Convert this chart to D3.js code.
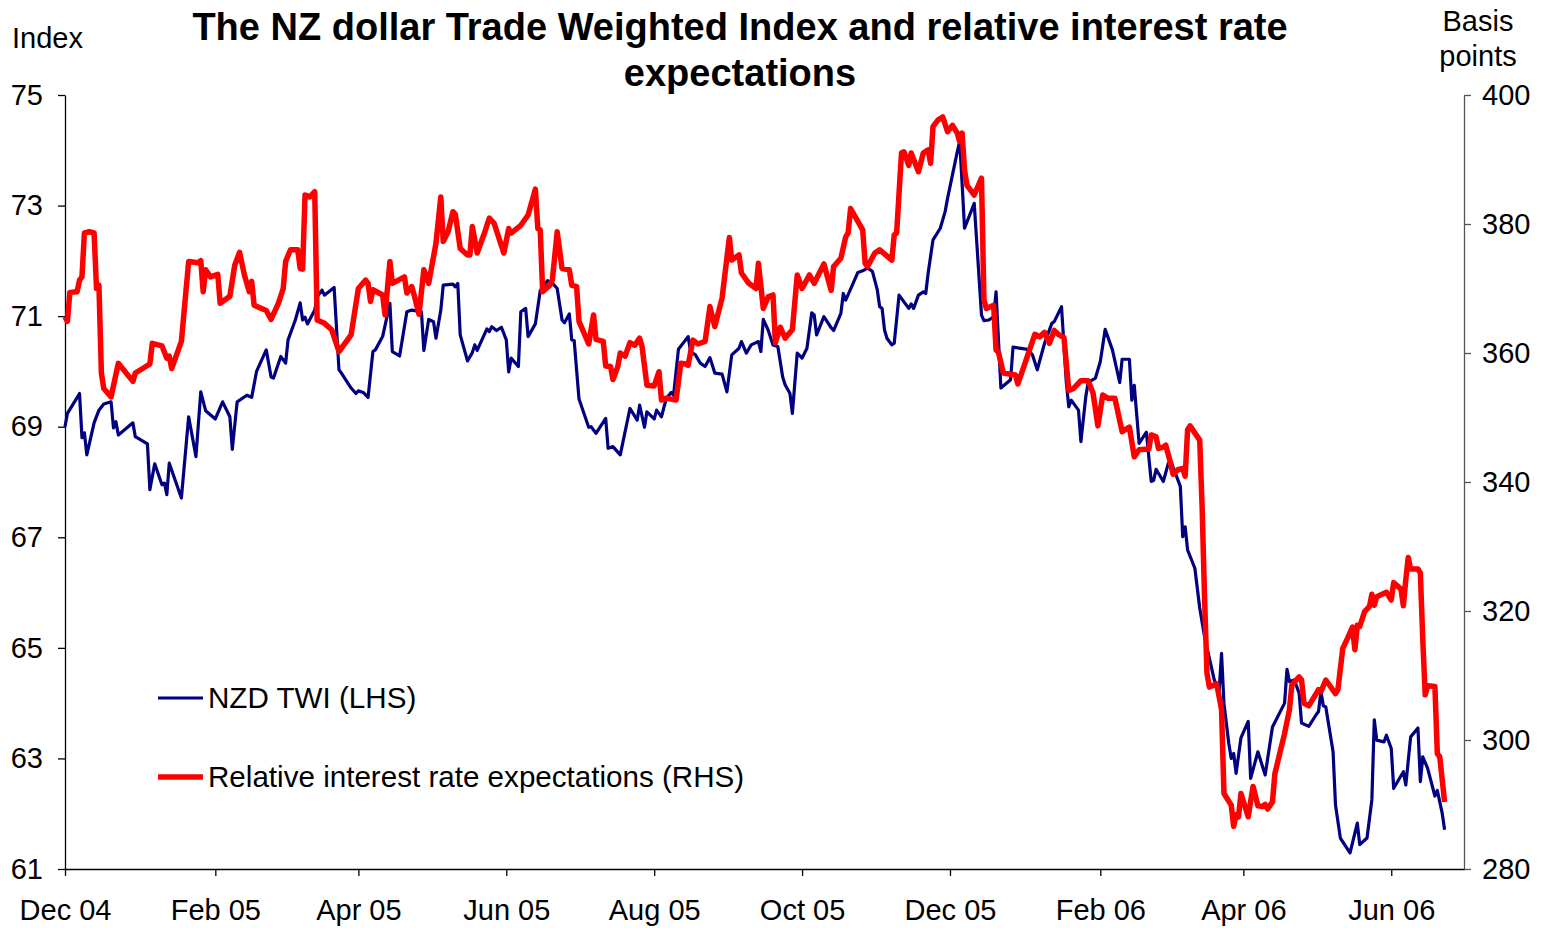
<!DOCTYPE html>
<html>
<head>
<meta charset="utf-8">
<script src="https://cdn.jsdelivr.net/npm/d3@7"></script>
<style>
	body { margin: 0; background: #fff; }
	#container { width: 1544px; height: 928px; }
	text { font-family: "Liberation Sans", Arial, sans-serif; fill: #000; }
	.axis path, .axis line { stroke: #000; stroke-width: 1.3px; }
	.axis text { font-size: 29px; }
	.rAxis path, .rAxis line { stroke: #555; }
</style>
</head>
<body>
<div id="container"></div>
<script>

// NZD TWI (LHS), index
var twiDates = [
	"2004-12-01","2004-12-02","2004-12-07","2004-12-08","2004-12-09","2004-12-10","2004-12-13","2004-12-15","2004-12-17","2004-12-20",
	"2004-12-21","2004-12-22","2004-12-23","2004-12-29","2004-12-30","2005-01-04","2005-01-05","2005-01-07","2005-01-10","2005-01-11",
	"2005-01-12","2005-01-13","2005-01-18","2005-01-21","2005-01-24","2005-01-26","2005-01-28","2005-02-01","2005-02-04","2005-02-07",
	"2005-02-08","2005-02-10","2005-02-14","2005-02-16","2005-02-18","2005-02-22","2005-02-24","2005-02-25","2005-02-28","2005-03-02",
	"2005-03-03","2005-03-06","2005-03-08","2005-03-09","2005-03-10","2005-03-11","2005-03-14","2005-03-15","2005-03-17","2005-03-18",
	"2005-03-22","2005-03-24","2005-03-25","2005-03-29","2005-03-31","2005-04-01","2005-04-03","2005-04-05","2005-04-07","2005-04-08",
	"2005-04-11","2005-04-14","2005-04-15","2005-04-18","2005-04-21","2005-04-23","2005-04-27","2005-04-28","2005-04-30","2005-05-02",
	"2005-05-03","2005-05-05","2005-05-06","2005-05-10","2005-05-11","2005-05-12","2005-05-13","2005-05-16","2005-05-18","2005-05-19",
	"2005-05-20","2005-05-24","2005-05-25","2005-05-26","2005-05-28","2005-05-30","2005-06-01","2005-06-02","2005-06-03","2005-06-06",
	"2005-06-07","2005-06-09","2005-06-10","2005-06-13","2005-06-15","2005-06-18","2005-06-20","2005-06-22","2005-06-24","2005-06-25",
	"2005-06-27","2005-06-28","2005-06-29","2005-07-01","2005-07-05","2005-07-06","2005-07-08","2005-07-12","2005-07-13","2005-07-15",
	"2005-07-18","2005-07-19","2005-07-22","2005-07-25","2005-07-26","2005-07-28","2005-07-29","2005-08-01","2005-08-02","2005-08-04",
	"2005-08-06","2005-08-08","2005-08-09","2005-08-11","2005-08-15","2005-08-16","2005-08-18","2005-08-20","2005-08-22","2005-08-24",
	"2005-08-26","2005-08-29","2005-08-31","2005-09-02","2005-09-05","2005-09-06","2005-09-08","2005-09-10","2005-09-13","2005-09-14",
	"2005-09-15","2005-09-17","2005-09-19","2005-09-21","2005-09-23","2005-09-24","2005-09-26","2005-09-27","2005-09-29","2005-10-01",
	"2005-10-03","2005-10-05","2005-10-06","2005-10-07","2005-10-10","2005-10-13","2005-10-14","2005-10-17","2005-10-18","2005-10-19",
	"2005-10-22","2005-10-24","2005-10-26","2005-10-28","2005-10-30","2005-11-01","2005-11-02","2005-11-03","2005-11-04","2005-11-05",
	"2005-11-07","2005-11-08","2005-11-10","2005-11-13","2005-11-14","2005-11-15","2005-11-16","2005-11-18","2005-11-20","2005-11-21",
	"2005-11-22","2005-11-24","2005-11-27","2005-11-29","2005-11-30","2005-12-02","2005-12-04","2005-12-05","2005-12-06","2005-12-07",
	"2005-12-11","2005-12-14","2005-12-15","2005-12-17","2005-12-19","2005-12-20","2005-12-22","2005-12-26","2005-12-27","2006-01-02",
	"2006-01-04","2006-01-06","2006-01-09","2006-01-12","2006-01-13","2006-01-16","2006-01-18","2006-01-19","2006-01-20","2006-01-23",
	"2006-01-24","2006-01-26","2006-01-27","2006-01-30","2006-02-01","2006-02-03","2006-02-06","2006-02-09","2006-02-10","2006-02-13",
	"2006-02-14","2006-02-15","2006-02-17","2006-02-20","2006-02-22","2006-02-23","2006-02-24","2006-02-27","2006-03-01","2006-03-02",
	"2006-03-06","2006-03-07","2006-03-08","2006-03-09","2006-03-12","2006-03-14","2006-03-16","2006-03-18","2006-03-20","2006-03-22",
	"2006-03-23","2006-03-24","2006-03-26","2006-03-27","2006-03-28","2006-03-29","2006-03-31","2006-04-03","2006-04-04","2006-04-07",
	"2006-04-10","2006-04-13","2006-04-18","2006-04-19","2006-04-20","2006-04-22","2006-04-24","2006-04-25","2006-04-28","2006-05-01",
	"2006-05-02","2006-05-03","2006-05-04","2006-05-05","2006-05-08","2006-05-09","2006-05-11","2006-05-15","2006-05-18","2006-05-19",
	"2006-05-22","2006-05-24","2006-05-25","2006-05-26","2006-05-29","2006-05-30","2006-06-01","2006-06-02","2006-06-06","2006-06-07",
	"2006-06-09","2006-06-12","2006-06-13","2006-06-14","2006-06-16","2006-06-19","2006-06-20","2006-06-22","2006-06-23"
];
var twiValues = [
	69.0,69.24,69.6,68.8,68.89,68.49,69.07,69.3,69.41,69.45,
	68.98,69.09,68.85,69.07,68.82,68.69,67.86,68.33,67.95,67.98,
	67.77,68.34,67.71,69.18,68.46,69.63,69.29,69.14,69.45,69.18,
	68.59,69.45,69.57,69.53,70.0,70.39,69.9,69.88,70.27,70.15,
	70.57,70.93,71.24,70.93,70.98,70.86,71.11,71.35,71.47,71.38,
	71.52,70.03,69.97,69.7,69.6,69.65,69.62,69.53,70.36,70.39,
	70.63,71.23,70.36,70.28,71.08,71.11,71.08,70.38,70.94,70.9,
	70.6,71.11,71.56,71.58,71.53,71.59,70.66,70.19,70.34,70.48,
	70.38,70.77,70.72,70.81,70.74,70.8,70.57,69.99,70.24,70.09,
	71.08,71.14,70.63,70.86,71.46,71.64,71.6,71.5,70.93,70.88,
	71.04,70.57,70.56,69.5,68.99,69.0,68.88,69.15,68.61,68.64,
	68.49,68.7,69.33,69.12,69.39,68.99,69.27,69.14,69.3,69.18,
	69.51,69.62,69.57,70.4,70.63,70.36,70.3,70.15,70.09,70.25,
	69.97,69.95,69.63,70.3,70.42,70.54,70.33,70.48,70.54,70.36,
	70.94,70.75,70.48,70.45,69.9,69.76,69.6,69.24,70.33,70.24,
	70.42,71.06,71.02,70.66,70.99,70.79,70.74,71.05,71.41,71.29,
	71.59,71.79,71.82,71.87,71.81,71.48,71.17,71.14,70.75,70.6,
	70.48,70.51,71.38,71.2,71.14,71.22,71.14,71.38,71.44,71.41,
	71.78,72.38,72.59,72.89,73.13,73.55,73.97,74.16,73.4,72.59,
	73.04,71.02,70.92,70.93,70.99,71.44,69.7,69.85,70.44,70.4,
	70.3,70.03,70.51,70.87,70.9,71.17,69.79,69.36,69.48,69.3,
	68.73,69.54,69.8,69.88,70.18,70.76,70.39,69.8,70.22,70.22,
	69.48,69.75,68.7,68.9,68.01,68.03,68.23,68.01,68.33,68.39,
	67.92,67.01,67.19,66.77,66.44,65.72,65.2,64.81,64.42,64.21,
	64.9,63.99,63.27,63.0,63.09,62.73,63.37,63.67,62.64,63.12,
	62.7,63.57,64.0,64.61,64.39,64.42,64.18,63.64,63.58,63.79,
	63.85,64.21,63.95,63.93,63.12,62.16,61.56,61.29,61.83,61.44,
	61.56,62.25,63.7,63.33,63.3,63.42,63.18,62.46,62.76,62.52,
	63.39,63.55,62.58,63.03,62.82,62.32,62.42,62.01,61.71
];

// relative interest rate expectations (RHS), basis points
var rateDates = [
	"2004-12-01","2004-12-02","2004-12-03","2004-12-06","2004-12-07","2004-12-08","2004-12-09","2004-12-11","2004-12-13","2004-12-14",
	"2004-12-15","2004-12-16","2004-12-17","2004-12-20","2004-12-23","2004-12-29","2004-12-30","2005-01-05","2005-01-06","2005-01-10",
	"2005-01-12","2005-01-13","2005-01-14","2005-01-18","2005-01-21","2005-01-25","2005-01-26","2005-01-27","2005-01-28","2005-01-30",
	"2005-02-02","2005-02-03","2005-02-07","2005-02-09","2005-02-11","2005-02-13","2005-02-15","2005-02-16","2005-02-17","2005-02-22",
	"2005-02-24","2005-02-27","2005-03-01","2005-03-02","2005-03-04","2005-03-07","2005-03-08","2005-03-09","2005-03-10","2005-03-12",
	"2005-03-14","2005-03-15","2005-03-18","2005-03-21","2005-03-24","2005-03-29","2005-04-01","2005-04-04","2005-04-05","2005-04-06",
	"2005-04-07","2005-04-11","2005-04-12","2005-04-14","2005-04-15","2005-04-20","2005-04-21","2005-04-23","2005-04-24","2005-04-26",
	"2005-04-28","2005-04-30","2005-05-03","2005-05-05","2005-05-06","2005-05-08","2005-05-10","2005-05-11","2005-05-13","2005-05-16",
	"2005-05-17","2005-05-18","2005-05-20","2005-05-23","2005-05-25","2005-05-27","2005-05-31","2005-06-02","2005-06-03","2005-06-07",
	"2005-06-10","2005-06-13","2005-06-14","2005-06-15","2005-06-16","2005-06-19","2005-06-20","2005-06-22","2005-06-24","2005-06-27",
	"2005-06-28","2005-06-30","2005-07-01","2005-07-05","2005-07-07","2005-07-08","2005-07-11","2005-07-12","2005-07-14","2005-07-15",
	"2005-07-17","2005-07-18","2005-07-20","2005-07-22","2005-07-24","2005-07-26","2005-07-27","2005-07-29","2005-08-01","2005-08-03",
	"2005-08-04","2005-08-06","2005-08-10","2005-08-12","2005-08-14","2005-08-15","2005-08-17","2005-08-19","2005-08-22","2005-08-24",
	"2005-08-26","2005-08-29","2005-09-01","2005-09-02","2005-09-05","2005-09-06","2005-09-09","2005-09-12","2005-09-13","2005-09-15",
	"2005-09-17","2005-09-19","2005-09-20","2005-09-22","2005-09-24","2005-09-27","2005-09-29","2005-10-01","2005-10-04","2005-10-06",
	"2005-10-10","2005-10-13","2005-10-14","2005-10-17","2005-10-19","2005-10-20","2005-10-21","2005-10-26","2005-10-27","2005-10-28",
	"2005-10-31","2005-11-02","2005-11-07","2005-11-08","2005-11-09","2005-11-11","2005-11-12","2005-11-14","2005-11-15","2005-11-18",
	"2005-11-20","2005-11-22","2005-11-23","2005-11-24","2005-11-26","2005-11-28","2005-11-30","2005-12-02","2005-12-04","2005-12-05",
	"2005-12-06","2005-12-07","2005-12-08","2005-12-11","2005-12-14","2005-12-15","2005-12-16","2005-12-19","2005-12-20","2005-12-21",
	"2005-12-23","2005-12-28","2005-12-29","2005-12-31","2006-01-05","2006-01-07","2006-01-09","2006-01-11","2006-01-13","2006-01-15",
	"2006-01-17","2006-01-19","2006-01-21","2006-01-24","2006-01-27","2006-01-29","2006-01-31","2006-02-02","2006-02-04","2006-02-07",
	"2006-02-10","2006-02-13","2006-02-15","2006-02-17","2006-02-21","2006-02-22","2006-02-24","2006-02-25","2006-02-27","2006-02-28",
	"2006-03-02","2006-03-03","2006-03-05","2006-03-07","2006-03-08","2006-03-09","2006-03-10","2006-03-14","2006-03-15","2006-03-16",
	"2006-03-17","2006-03-18","2006-03-21","2006-03-22","2006-03-23","2006-03-24","2006-03-27","2006-03-28","2006-03-29","2006-03-30",
	"2006-03-31","2006-04-03","2006-04-05","2006-04-07","2006-04-09","2006-04-10","2006-04-11","2006-04-13","2006-04-14","2006-04-18",
	"2006-04-20","2006-04-21","2006-04-24","2006-04-25","2006-04-26","2006-04-28","2006-05-02","2006-05-03","2006-05-05","2006-05-09",
	"2006-05-10","2006-05-12","2006-05-14","2006-05-16","2006-05-17","2006-05-18","2006-05-19","2006-05-21","2006-05-23","2006-05-24",
	"2006-05-25","2006-05-26","2006-05-30","2006-06-01","2006-06-02","2006-06-05","2006-06-06","2006-06-07","2006-06-08","2006-06-09",
	"2006-06-12","2006-06-13","2006-06-14","2006-06-15","2006-06-16","2006-06-19","2006-06-20","2006-06-21","2006-06-23"
];
var rateValues = [
	365.6,364.9,369.4,369.5,371.3,371.8,378.6,378.8,378.6,370.0,
	370.5,356.9,354.5,353.2,358.4,355.6,356.9,358.3,361.5,361.1,
	359.2,359.5,357.6,361.8,374.2,374.0,374.3,369.5,372.9,371.8,
	372.2,367.7,368.8,373.6,375.6,372.1,369.5,371.1,367.4,366.6,
	365.2,367.7,370.0,374.2,376.0,376.0,373.1,373.0,384.5,384.2,
	385.0,365.1,364.6,363.6,360.2,362.8,370.0,371.3,370.8,368.0,
	369.8,369.0,365.9,374.2,370.8,371.8,369.3,370.3,369.0,366.0,
	372.9,370.8,377.0,384.2,377.3,378.8,381.9,381.5,376.2,375.2,
	375.2,379.6,375.5,378.6,380.9,380.1,375.5,379.3,378.6,379.8,
	381.4,385.4,379.3,379.1,369.5,370.5,371.3,378.8,373.1,372.9,
	370.5,370.3,364.9,361.4,365.9,362.1,361.8,358.0,357.9,355.9,
	357.9,360.0,359.5,361.6,361.2,362.3,361.0,355.0,354.9,357.1,
	352.7,353.0,352.7,358.4,358.3,358.1,362.0,361.4,361.8,367.2,
	364.1,368.5,377.9,374.4,375.2,372.4,370.8,370.0,373.9,366.9,
	368.7,369.0,361.6,364.0,362.3,363.6,372.1,370.0,372.1,370.8,
	373.8,369.7,373.4,374.7,378.0,378.6,382.4,379.1,373.9,373.4,
	375.5,376.0,374.4,378.3,378.6,391.0,391.2,389.1,391.0,388.1,
	391.0,391.5,389.4,395.1,396.1,396.6,394.3,395.3,394.1,392.8,
	394.1,388.4,386.0,384.5,387.1,368.2,366.9,367.4,360.5,360.1,
	356.9,356.6,355.2,357.4,362.9,362.5,363.2,361.5,363.5,362.8,
	362.4,354.2,354.5,355.7,355.7,353.8,348.7,353.5,353.0,353.0,
	347.8,348.5,343.9,345.0,345.1,347.3,347.0,345.2,345.4,345.7,
	342.9,341.2,341.9,342.1,340.9,348.1,348.7,346.5,336.0,322.0,
	310.3,308.2,308.7,306.7,304.7,291.7,289.9,286.6,288.4,288.1,
	291.7,288.1,292.8,289.8,289.7,290.0,289.3,290.4,294.8,301.0,
	304.7,308.5,309.8,309.3,305.7,305.3,307.8,307.5,309.3,307.2,
	307.8,314.2,315.8,317.5,314.0,317.8,317.6,319.9,320.7,322.6,
	320.9,322.2,322.9,321.7,324.4,323.4,320.8,324.9,328.3,326.5,
	326.5,325.9,315.5,307.0,308.4,308.3,297.9,297.4,290.4
];

var leftTicks = [61, 63, 65, 67, 69, 71, 73, 75];
var rightTicks = [280, 300, 320, 340, 360, 380, 400];
var tickDates = ["2004-12-01","2005-02-01","2005-04-01","2005-06-01","2005-08-01","2005-10-01","2005-12-01","2006-02-01","2006-04-01","2006-06-01"];
var tickLabels = ["Dec 04","Feb 05","Apr 05","Jun 05","Aug 05","Oct 05","Dec 05","Feb 06","Apr 06","Jun 06"];
var seriesNames = ["NZD TWI (LHS)", "Relative interest rate expectations (RHS)"];

function twi_chart(){

	var width = 1544, height = 928;
	var margin = {top: 95, right: 80, bottom: 59, left: 65};
	var parseDate = d3.timeParse("%Y-%m-%d");

	var svg = d3.select("#container")
		.append("svg")
		.attr("width", width)
		.attr("height", height);

	// scale
	var x = d3.scaleTime()
		.domain([parseDate("2004-12-01"), parseDate("2006-07-01")])
		.range([margin.left, width - margin.right]);
	var yL = d3.scaleLinear().domain([61, 75]).range([height - margin.bottom, margin.top]);
	var yR = d3.scaleLinear().domain([280, 400]).range([height - margin.bottom, margin.top]);

	var twi = twiDates.map(function(d, i){ return {date: parseDate(d), value: twiValues[i]}; });
	var rate = rateDates.map(function(d, i){ return {date: parseDate(d), value: rateValues[i]}; });

	// axis
	svg.append("g")
		.attr("class", "axis")
		.attr("transform", "translate(" + margin.left + ",0)")
		.call(d3.axisLeft(yL)
			.tickValues(leftTicks)
			.tickSize(7)
			.tickSizeOuter(0)
			.tickPadding(15)
		);

	svg.append("g")
		.attr("class", "axis rAxis")
		.attr("transform", "translate(" + (width - margin.right) + ",0)")
		.call(d3.axisRight(yR)
			.tickValues(rightTicks)
			.tickSize(7)
			.tickSizeOuter(0)
			.tickPadding(11)
		);

	var labelIndex = {};
	tickDates.forEach(function(d, i){ labelIndex[d] = tickLabels[i]; });

	svg.append("g")
		.attr("class", "axis")
		.attr("transform", "translate(0," + (height - margin.bottom) + ")")
		.call(d3.axisBottom(x)
			.tickValues(tickDates.map(parseDate))
			.tickFormat(function(d){ return labelIndex[d3.timeFormat("%Y-%m-%d")(d)]; })
			.tickSize(7)
			.tickSizeOuter(0)
			.tickPadding(23)
		);

	// lines, red drawn last so it sits on top
	var lineL = d3.line()
		.x(function(d){ return x(d.date); })
		.y(function(d){ return yL(d.value); });

	var lineR = d3.line()
		.x(function(d){ return x(d.date); })
		.y(function(d){ return yR(d.value); });

	svg.append("path")
		.datum(twi)
		.attr("d", lineL)
		.attr("fill", "none")
		.attr("stroke", "#000080")
		.attr("stroke-width", 3.2)
		.attr("stroke-linejoin", "round");

	svg.append("path")
		.datum(rate)
		.attr("d", lineR)
		.attr("fill", "none")
		.attr("stroke", "#ff0000")
		.attr("stroke-width", 5.5)
		.attr("stroke-linejoin", "round");

	// title
	var title = svg.append("text")
		.attr("text-anchor", "middle")
		.style("font-size", "38px")
		.style("font-weight", "bold");
	title.append("tspan").attr("x", 740).attr("y", 40)
		.text("The NZ dollar Trade Weighted Index and relative interest rate");
	title.append("tspan").attr("x", 740).attr("y", 86)
		.text("expectations");

	// axis titles
	svg.append("text")
		.attr("x", 12).attr("y", 48)
		.style("font-size", "29px")
		.text("Index");

	var bp = svg.append("text")
		.attr("text-anchor", "middle")
		.style("font-size", "29px");
	bp.append("tspan").attr("x", 1478).attr("y", 31).text("Basis");
	bp.append("tspan").attr("x", 1478).attr("y", 66).text("points");

	// legend
	var legend = [
		{name: seriesNames[0], color: "#000080", w: 3.2, y: 698},
		{name: seriesNames[1], color: "#ff0000", w: 5.5, y: 777}
	];

	var lg = svg.append("g").selectAll("g")
		.data(legend)
		.enter().append("g");

	lg.append("line")
		.attr("x1", 158).attr("x2", 203)
		.attr("y1", function(d){ return d.y; })
		.attr("y2", function(d){ return d.y; })
		.attr("stroke", function(d){ return d.color; })
		.attr("stroke-width", function(d){ return d.w; });

	lg.append("text")
		.attr("x", 208)
		.attr("y", function(d){ return d.y + 10; })
		.style("font-size", "29.6px")
		.text(function(d){ return d.name; });
}

twi_chart();
</script>
</body>
</html>
